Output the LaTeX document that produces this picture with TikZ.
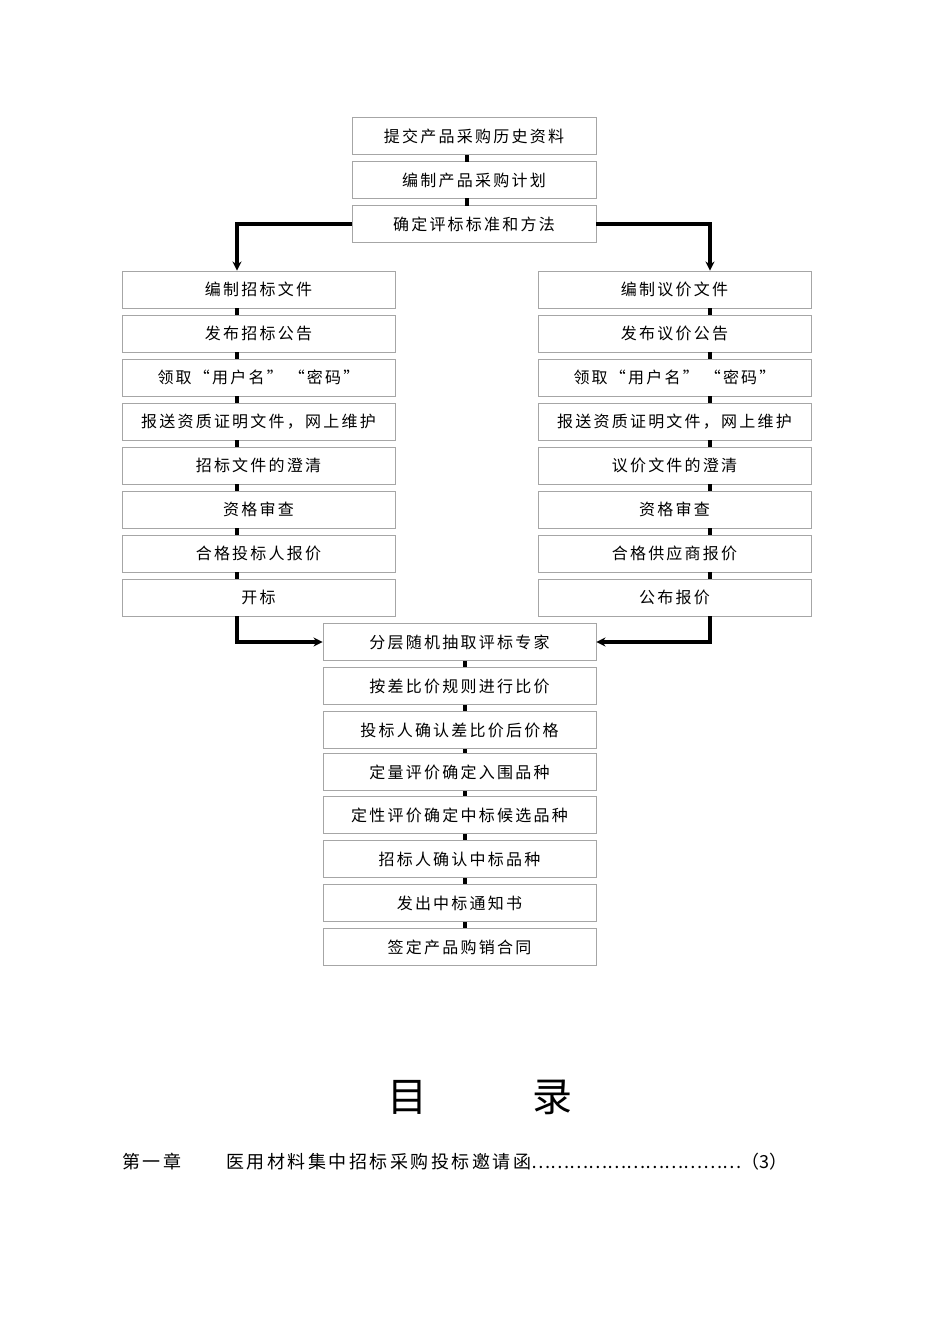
\documentclass[tikz,border=0pt]{standalone}
\usepackage{fontspec}
\setmainfont{Noto Sans CJK SC}
\newfontfamily\spaced[LetterSpace=14]{Noto Sans CJK SC}
\usetikzlibrary{arrows.meta}
\begin{document}
\begin{tikzpicture}[x=1pt,y=-1pt,
 bx/.style={draw=black!35,line width=0.9pt,minimum height=37pt,inner sep=0pt,font=\spaced\fontsize{16}{16}\selectfont},
 lk/.style={line width=3.2pt},
 ar/.style={line width=3.2pt,-{Stealth[length=9pt,width=9pt]}}]
\useasboundingbox (0,0) rectangle (950,1344);
% top
\foreach \n/\y/\t in {t1/136/提交产品采购历史资料,t2/180/编制产品采购计划,t3/224/确定评标标准和方法}
 \node[bx,minimum width=244pt] (\n) at (474,\y) {\t};
\draw[lk] (467,155) -- (467,162);
\draw[lk] (467,198) -- (467,206);
% left column
\foreach \i/\t in {1/编制招标文件,2/发布招标公告,3/领取“用户名”\ “密码”,4/报送资质证明文件，网上维护,5/招标文件的澄清,6/资格审查,7/合格投标人报价,8/开标}
 \node[bx,minimum width=273pt] (l\i) at (258.5,{289.5+44*(\i-1)}) {\t};
\foreach \i/\t in {1/编制议价文件,2/发布议价公告,3/领取“用户名”\ “密码”,4/报送资质证明文件，网上维护,5/议价文件的澄清,6/资格审查,7/合格供应商报价,8/公布报价}
 \node[bx,minimum width=273pt] (r\i) at (674.5,{289.5+44*(\i-1)}) {\t};
\foreach \i in {1,...,7}{
 \draw[lk] (237,{308+44*(\i-1)}) -- (237,{315+44*(\i-1)});
 \draw[lk] (710,{308+44*(\i-1)}) -- (710,{315+44*(\i-1)});}
% bottom
\foreach \i/\y/\t in {1/642/分层随机抽取评标专家,2/686/按差比价规则进行比价,3/730/投标人确认差比价后价格,4/772/定量评价确定入围品种,5/815/定性评价确定中标候选品种,6/859/招标人确认中标品种,7/903/发出中标通知书,8/947/签定产品购销合同}
 \node[bx,minimum width=273pt] (b\i) at (459.5,\y) {\t};
\foreach \a/\b in {1/2,2/3,3/4,4/5,5/6,6/7,7/8}
 \draw[lk] (465,0|-b\a.south) -- (465,0|-b\b.north);
% branches
\draw[ar] (t3.west) -| (237,0|-l1.north);
\draw[ar] (t3.east) -| (710,0|-r1.north);
\draw[ar] (237,0|-l8.south) |- (b1.west);
\draw[ar] (710,0|-r8.south) |- (b1.east);
% toc
\node[font=\fontsize{40}{40}\selectfont] (m1) at (407,1097) {目};
\node[font=\fontsize{40}{40}\selectfont] (m2) at (552,1097) {录};
\node[anchor=west,font=\spaced\fontsize{18}{18}\selectfont,inner sep=0pt] (c1) at (122,1162) {第一章};
\node[anchor=west,font=\fontsize{18}{18}\selectfont,inner sep=0pt] (c2) at (226,1162) {{\spaced 医用材料集中招标采购投标邀请函}……………………………（3）};
\end{tikzpicture}
\end{document}
